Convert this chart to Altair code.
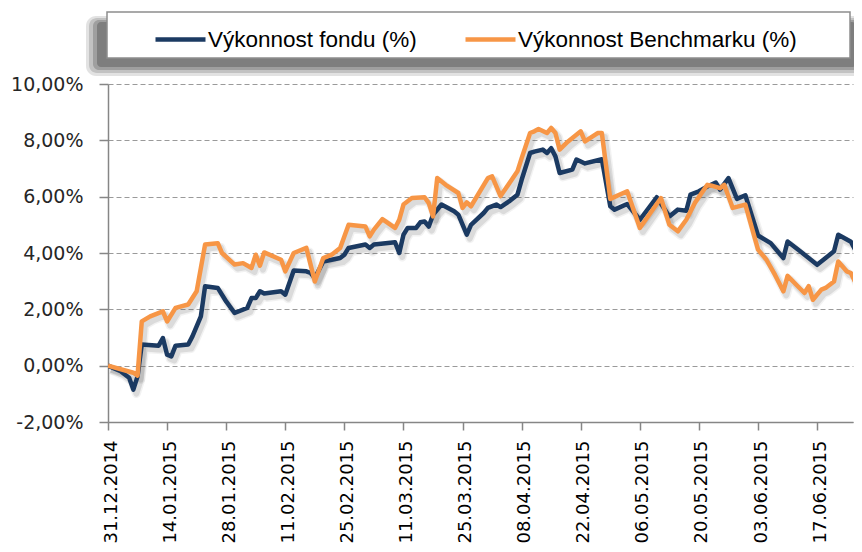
import altair as alt
import pandas as pd

series_names = ["Výkonnost fondu (%)", "Výkonnost Benchmarku (%)"]
series_colors = ["#1B3A62", "#F79646"]

fund_dates = [
    "2014-12-31", "2015-01-03", "2015-01-05", "2015-01-06", "2015-01-07", "2015-01-08",
    "2015-01-12", "2015-01-13", "2015-01-14", "2015-01-15", "2015-01-16", "2015-01-19",
    "2015-01-20", "2015-01-22", "2015-01-23", "2015-01-26", "2015-01-28", "2015-01-30",
    "2015-02-02", "2015-02-03", "2015-02-04", "2015-02-05", "2015-02-06", "2015-02-10",
    "2015-02-11", "2015-02-13", "2015-02-16", "2015-02-17", "2015-02-18", "2015-02-20",
    "2015-02-24", "2015-02-25", "2015-02-26", "2015-03-02", "2015-03-03", "2015-03-04",
    "2015-03-09", "2015-03-10", "2015-03-11", "2015-03-12", "2015-03-14", "2015-03-15",
    "2015-03-16", "2015-03-17", "2015-03-18", "2015-03-20", "2015-03-23", "2015-03-24",
    "2015-03-26", "2015-03-27", "2015-03-30", "2015-03-31", "2015-04-02", "2015-04-03",
    "2015-04-05", "2015-04-07", "2015-04-08", "2015-04-10", "2015-04-11", "2015-04-13",
    "2015-04-14", "2015-04-15", "2015-04-16", "2015-04-17", "2015-04-20", "2015-04-21",
    "2015-04-23", "2015-04-27", "2015-04-29", "2015-04-30", "2015-05-03", "2015-05-06",
    "2015-05-10", "2015-05-13", "2015-05-15", "2015-05-17", "2015-05-18", "2015-05-20",
    "2015-05-22", "2015-05-24", "2015-05-25", "2015-05-27", "2015-05-29", "2015-05-31",
    "2015-06-03", "2015-06-06", "2015-06-09", "2015-06-10", "2015-06-13", "2015-06-15",
    "2015-06-17", "2015-06-21", "2015-06-22", "2015-06-25", "2015-06-28",
]
fund_values = [
    0.00, -0.20, -0.43, -0.85, -0.38, 0.75,
    0.71, 0.98, 0.39, 0.33, 0.71, 0.75,
    1.04, 1.75, 2.82, 2.76, 2.28, 1.87,
    2.05, 2.40, 2.40, 2.64, 2.56, 2.64,
    2.52, 3.38, 3.35, 3.29, 3.11, 3.70,
    3.82, 3.94, 4.18, 4.30, 4.18, 4.30,
    4.38, 4.00, 4.65, 4.89, 4.89, 5.09,
    5.12, 4.94, 5.36, 5.72, 5.48, 5.36,
    4.65, 5.00, 5.42, 5.60, 5.72, 5.63,
    5.83, 6.07, 6.60, 7.55, 7.60, 7.67,
    7.55, 7.72, 7.43, 6.84, 6.96, 7.32,
    7.18, 7.33, 5.66, 5.54, 5.74, 5.18,
    5.98, 5.30, 5.54, 5.50, 6.07, 6.19,
    6.36, 6.50, 6.25, 6.66, 5.92, 6.05,
    4.62, 4.35, 3.82, 4.41, 4.06, 3.82,
    3.58, 4.06, 4.65, 4.40, 3.55,
]

bench_dates = [
    "2014-12-31", "2015-01-06", "2015-01-07", "2015-01-08", "2015-01-10", "2015-01-13",
    "2015-01-14", "2015-01-16", "2015-01-19", "2015-01-21", "2015-01-23", "2015-01-26",
    "2015-01-27", "2015-01-30", "2015-02-01", "2015-02-03", "2015-02-04", "2015-02-05",
    "2015-02-06", "2015-02-10", "2015-02-11", "2015-02-13", "2015-02-16", "2015-02-18",
    "2015-02-20", "2015-02-22", "2015-02-24", "2015-02-26", "2015-03-02", "2015-03-03",
    "2015-03-04", "2015-03-06", "2015-03-09", "2015-03-10", "2015-03-11", "2015-03-13",
    "2015-03-16", "2015-03-17", "2015-03-18", "2015-03-19", "2015-03-21", "2015-03-24",
    "2015-03-25", "2015-03-26", "2015-03-27", "2015-03-31", "2015-04-01", "2015-04-03",
    "2015-04-07", "2015-04-08", "2015-04-10", "2015-04-11", "2015-04-12", "2015-04-14",
    "2015-04-15", "2015-04-16", "2015-04-17", "2015-04-19", "2015-04-22", "2015-04-23",
    "2015-04-26", "2015-04-27", "2015-04-29", "2015-05-03", "2015-05-06", "2015-05-11",
    "2015-05-13", "2015-05-15", "2015-05-17", "2015-05-19", "2015-05-22", "2015-05-23",
    "2015-05-25", "2015-05-26", "2015-05-28", "2015-05-31", "2015-06-03", "2015-06-05",
    "2015-06-07", "2015-06-09", "2015-06-10", "2015-06-12", "2015-06-14", "2015-06-15",
    "2015-06-16", "2015-06-18", "2015-06-19", "2015-06-21", "2015-06-22", "2015-06-24",
    "2015-06-25", "2015-06-28",
]
bench_values = [
    0.00, -0.25, -0.35, 1.57, 1.75, 1.93,
    1.57, 2.05, 2.17, 2.64, 4.30, 4.35,
    4.00, 3.59, 3.64, 3.47, 3.94, 3.55,
    4.02, 3.76, 3.35, 4.00, 4.18, 2.99,
    3.82, 3.94, 4.18, 5.00, 4.94, 4.59,
    4.83, 5.20, 4.89, 5.18, 5.72, 5.95,
    5.98, 5.77, 5.30, 6.66, 6.42, 6.13,
    5.60, 5.80, 5.66, 6.66, 6.72, 6.02,
    6.90, 7.37, 8.26, 8.32, 8.40, 8.26,
    8.44, 8.26, 7.67, 7.96, 8.32, 7.96,
    8.26, 8.26, 5.92, 6.19, 4.89, 5.95,
    5.00, 4.77, 5.18, 5.77, 6.42, 6.39,
    6.30, 6.42, 5.60, 5.72, 4.12, 3.76,
    3.23, 2.64, 3.19, 2.88, 2.58, 2.82,
    2.34, 2.70, 2.76, 2.99, 3.70, 3.35,
    3.29, 2.34,
]

y_ticks = [-2, 0, 2, 4, 6, 8, 10]
x_tick_dates = [
    (2014, 12, 31), (2015, 1, 14), (2015, 1, 28), (2015, 2, 11), (2015, 2, 25),
    (2015, 3, 11), (2015, 3, 25), (2015, 4, 8), (2015, 4, 22), (2015, 5, 6),
    (2015, 5, 20), (2015, 6, 3), (2015, 6, 17),
]

df = pd.concat([
    pd.DataFrame({"date": fund_dates, "value": fund_values, "series": series_names[0]}),
    pd.DataFrame({"date": bench_dates, "value": bench_values, "series": series_names[1]}),
], ignore_index=True)

def dt(t, **kw):
    return alt.DateTime(year=t[0], month=t[1], date=t[2], utc=True, **kw)

x_enc = alt.X(
    "date:T",
    scale=alt.Scale(type="utc", domain=[dt((2014, 12, 31)), dt((2015, 6, 25), hours=12)], nice=False),
    axis=alt.Axis(
        values=[dt(t) for t in x_tick_dates],
        labelExpr="utcFormat(datum.value, '%d.%m.%Y')",
        labelAngle=270, grid=False, domainColor="#868686", domainWidth=1.5,
        tickColor="#868686", tickSize=8, tickWidth=1.5, labelPadding=10,
        labelFont="DejaVu Sans", labelFontSize=18, labelColor="#000000",
        labelOffset=3, title=None, labelOverlap=False,
    ),
)
y_enc = alt.Y(
    "value:Q",
    scale=alt.Scale(domain=[-2, 10], nice=False, zero=False),
    axis=alt.Axis(
        values=y_ticks,
        labelExpr="replace(replace(format(datum.value, '.2f'), '.', ','), '\u2212', '-') + '%'",
        grid=True, gridDash=[5, 3], gridColor="#9a9a9a", gridWidth=1,
        domainColor="#868686", domainWidth=1.5, tickColor="#868686", tickSize=9,
        tickWidth=1.5, labelPadding=16, labelFont="DejaVu Sans", labelFontSize=19,
        labelColor="#262626", title=None,
    ),
)
color_enc = alt.Color(
    "series:N",
    scale=alt.Scale(domain=series_names, range=series_colors),
    legend=alt.Legend(
        orient="none", legendX=45, legendY=-72, direction="horizontal", title=None,
        symbolType="stroke", symbolSize=2500, symbolStrokeWidth=4.5,
        labelFont="Liberation Sans Narrow, Liberation Sans", labelFontSize=22.5,
        labelColor="#000000", columnPadding=39, labelOffset=0, padding=0,
        labelLimit=400,
    ),
)

def deco_rect(x1, x2, y1, y2, **mark):
    return alt.Chart(alt.Data(values=[{}])).mark_rect(**mark).encode(
        x=alt.value(x1), x2=alt.value(x2), y=alt.value(y1), y2=alt.value(y2)
    )

shadow_layers = [
    deco_rect(-22, 758, -68, -8, color="#333333", opacity=0.14, cornerRadius=10),
    deco_rect(-19, 755, -66, -11, color="#333333", opacity=0.18, cornerRadius=8),
    deco_rect(-15, 752, -64, -14, color="#333333", opacity=0.24, cornerRadius=6),
    deco_rect(-11, 748, -62, -17, color="#333333", opacity=0.3, cornerRadius=4),
]
box = deco_rect(-1, 742, -72, -26, fill="white", stroke="#8d8d8d", strokeWidth=1.5)

base = alt.Chart(df)
line_shadows = [
    base.transform_filter(alt.datum.series == s).mark_line(
        color="#555555", strokeWidth=w, opacity=o, xOffset=3, yOffset=4, clip=True,
        strokeJoin="round",
    ).encode(x=x_enc, y=y_enc)
    for s in series_names for (w, o) in [(9, 0.08), (6, 0.14)]
]
lines = [
    base.transform_filter(alt.datum.series == s).mark_line(
        strokeWidth=4.5, clip=True, strokeJoin="round"
    ).encode(x=x_enc, y=y_enc, color=color_enc)
    for s in series_names
]

chart = alt.layer(*shadow_layers, box, *line_shadows, *lines).properties(
    width=745, height=338,
    autosize=alt.AutoSizeParams(type="none"),
    padding={"left": 100, "top": 76, "right": 1, "bottom": 122},
    background="white",
).configure_view(stroke=None)

chart.save("out.html", embed_options={"renderer": "svg", "actions": False})
